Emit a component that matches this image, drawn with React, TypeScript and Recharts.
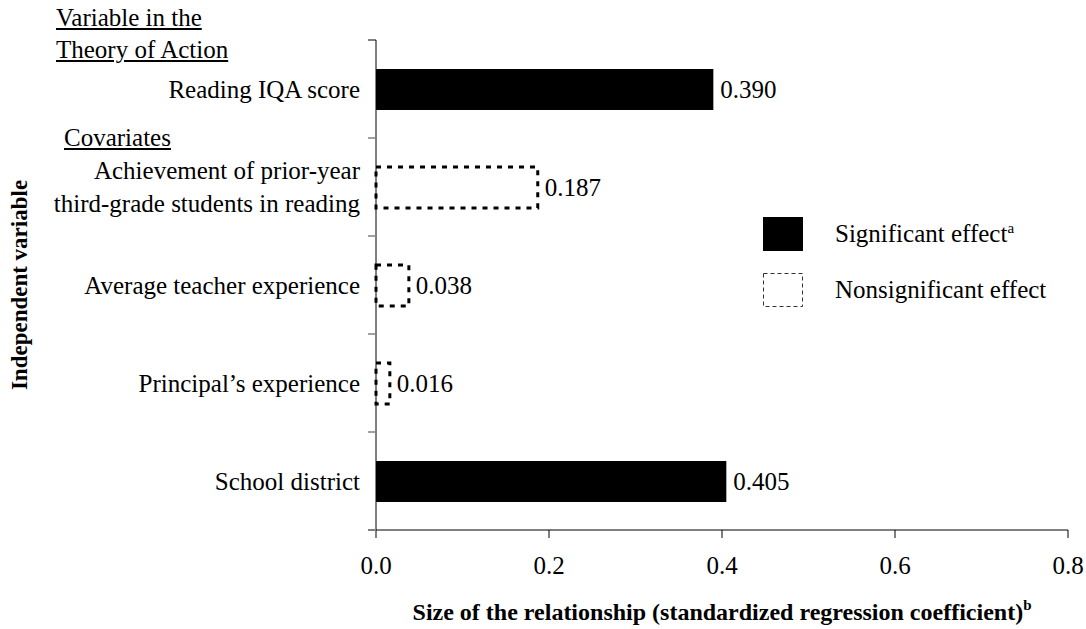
import React from "react";
import { BarChart, Bar, XAxis, YAxis, Cell, LabelList } from "recharts";

// ── Data ──────────────────────────────────────────────────────────────────────

const categoryLines: string[][] = [
  ["Reading IQA score"],
  ["Achievement of prior-year", "third-grade students in reading"],
  ["Average teacher experience"],
  ["Principal\u2019s experience"],
  ["School district"],
];
const categories = categoryLines.map((l) => l.join(" "));
const coefficients = [0.39, 0.187, 0.038, 0.016, 0.405];
const significant = [true, false, false, false, true];
const xTicks = [0, 0.2, 0.4, 0.6, 0.8];

const data = categories.map((name, i) => ({
  name,
  value: coefficients[i],
  sig: significant[i],
}));

// ── Layout ────────────────────────────────────────────────────────────────────

const FONT = '"Liberation Serif", "Times New Roman", serif';
const FS = 25;
const W = 1086;
const H = 629;
const M = { top: 40, right: 18, bottom: 0, left: 16 };
const Y_AXIS_W = 360;
const X_AXIS_H = 99;
const AXIS_X = M.left + Y_AXIS_W;
const PLOT_H = H - M.top - M.bottom - X_AXIS_H;
const BAND = PLOT_H / categories.length;

function CategoryTick(props: any) {
  const { y, payload } = props;
  const idx = categories.indexOf(payload.value);
  const lines = categoryLines[idx] || [payload.value];
  return (
    <g>
      {lines.map((line, i) => (
        <text
          key={i}
          x={AXIS_X - 16}
          y={y + (i - (lines.length - 1) / 2) * 33}
          dy="0.35em"
          textAnchor="end"
          fill="#000"
          fontSize={FS}
          fontFamily={FONT}
        >
          {line}
        </text>
      ))}
      <line
        x1={AXIS_X - 8}
        x2={AXIS_X}
        y1={y - BAND / 2}
        y2={y - BAND / 2}
        stroke={idx === 0 ? "#000" : "#808080"}
        strokeWidth={idx === 0 ? 1 : 1.5}
      />
      {idx === categories.length - 1 && (
        <line
          x1={AXIS_X - 8}
          x2={AXIS_X}
          y1={y + BAND / 2}
          y2={y + BAND / 2}
          stroke="#808080"
          strokeWidth={2}
        />
      )}
    </g>
  );
}

// legend drawn as an overlay so it does not shrink the plot
function LegendBox() {
  const row = { display: "flex", alignItems: "center", height: 34 } as const;
  const text = { fontFamily: FONT, fontSize: FS, color: "#000", marginLeft: 32, whiteSpace: "nowrap" } as const;
  return (
    <div style={{ position: "absolute", left: 763, top: 217 }}>
      <div style={row}>
        <svg width={40} height={34}>
          <rect x={0} y={0} width={40} height={34} fill="#000" />
        </svg>
        <span style={text}>
          Significant effect<sup style={{ fontSize: 15 }}>a</sup>
        </span>
      </div>
      <div style={{ ...row, marginTop: 22 }}>
        <svg width={40} height={34}>
          <rect x={0.5} y={0.5} width={39} height={33} fill="none" stroke="#333" strokeDasharray="4 3" />
        </svg>
        <span style={text}>Nonsignificant effect</span>
      </div>
    </div>
  );
}

const header = {
  position: "absolute",
  fontFamily: FONT,
  fontSize: FS,
  lineHeight: "32px",
  textDecoration: "underline",
  color: "#000",
  whiteSpace: "nowrap",
} as const;

export default function App() {
  return (
    <div style={{ position: "absolute", left: 0, top: 0, width: W, height: H, background: "#fff" }}>
      <BarChart
        width={W}
        height={H}
        data={data}
        layout="vertical"
        margin={M}
        barSize={41}
      >
        <XAxis
          type="number"
          domain={[0, 0.8]}
          ticks={xTicks}
          tickFormatter={(v: number) => v.toFixed(1)}
          height={X_AXIS_H}
          axisLine={{ stroke: "#808080", strokeWidth: 2 }}
          tickLine={{ stroke: "#000" }}
          tickSize={8}
          tickMargin={18}
          tick={{ fill: "#000", fontSize: FS, fontFamily: FONT }}
          label={{
            content: ({ viewBox }: any) => (
              <text
                x={viewBox.x + viewBox.width / 2}
                y={viewBox.y + 90}
                textAnchor="middle"
                fontFamily={FONT}
                fontWeight="bold"
                fontSize={24}
                fill="#000"
              >
                Size of the relationship (standardized regression coefficient)
                <tspan dy={-10} fontSize={15}>b</tspan>
              </text>
            ),
          }}
        />
        <YAxis
          type="category"
          dataKey="name"
          width={Y_AXIS_W}
          axisLine={{ stroke: "#000" }}
          tickLine={false}
          tick={<CategoryTick />}
          interval={0}
          label={{
            content: ({ viewBox }: any) => {
              const cx = viewBox.x + 3;
              const cy = viewBox.y + viewBox.height / 2;
              return (
                <text
                  x={cx}
                  y={cy}
                  transform={`rotate(-90 ${cx} ${cy})`}
                  textAnchor="middle"
                  dominantBaseline="central"
                  fontFamily={FONT}
                  fontWeight="bold"
                  fontSize={23}
                  fill="#000"
                >
                  Independent variable
                </text>
              );
            },
          }}
        />
        <Bar dataKey="value" isAnimationActive={false}>
          {data.map((d, i) =>
            d.sig ? (
              <Cell key={i} fill="#000" stroke="none" />
            ) : (
              <Cell key={i} fill="none" stroke="#000" strokeWidth={3} strokeDasharray="5 6" />
            )
          )}
          <LabelList
            dataKey="value"
            position="right"
            offset={7}
            fill="#000"
            fontSize={FS}
            fontFamily={FONT}
            formatter={(v: any) => Number(v).toFixed(3)}
          />
        </Bar>
      </BarChart>
      <LegendBox />
      <div style={{ ...header, left: 56, top: 2 }}>Variable in the </div>
      <div style={{ ...header, left: 56, top: 34 }}>Theory of Action</div>
      <div style={{ ...header, left: 64, top: 122 }}>Covariates</div>
    </div>
  );
}
